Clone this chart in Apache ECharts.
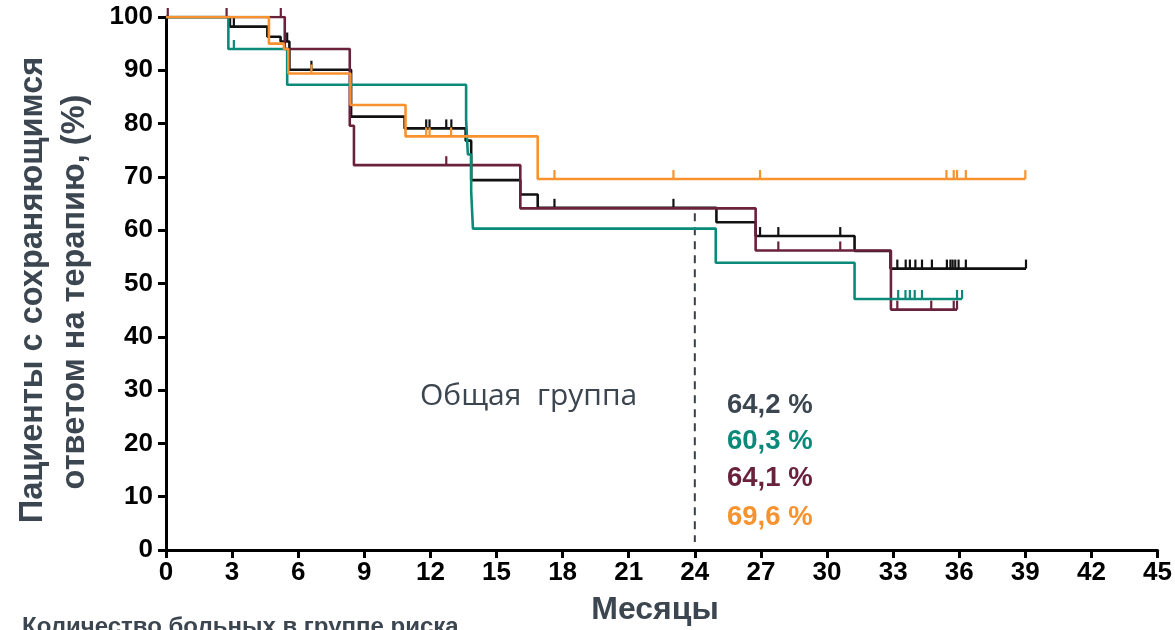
<!DOCTYPE html>
<html>
<head>
<meta charset="utf-8">
<script src="https://cdn.jsdelivr.net/npm/echarts@6/dist/echarts.min.js"></script>
<style>
  html, body { margin: 0; padding: 0; background: #ffffff; }
  #chart { width: 1175px; height: 630px; }
</style>
</head>
<body>
<div id="chart"></div>
<script>
// Kaplan–Meier curves: event times (months) and survival after each step (%)
const blackTimes  = [0, 2.9, 4.6, 5.2, 5.6, 8.4, 10.83, 13.6, 13.85, 16.08, 16.87, 24.98, 26.76, 31.25, 32.88, 39.03];
const blackValues = [100, 98.2, 96.3, 95.4, 90.1, 81.3, 79.1, 76.8, 69.4, 66.7, 64.2, 61.5, 58.9, 56.1, 52.8, 52.8];
const blackCensored = [3.08, 5.5, 6.6, 11.81, 11.96, 12.72, 12.95, 17.63, 23.03, 26.96, 27.79, 30.6,
  33.19, 33.57, 33.76, 34.01, 34.31, 34.76, 35.44, 35.6, 35.7, 35.82, 35.97, 36.3, 39.03];

const tealTimes  = [0, 2.83, 5.5, 13.62, 13.7, 13.85, 13.93, 24.95, 31.25, 36.13];
const tealValues = [100, 94.0, 87.3, 80.8, 74.2, 67.3, 60.3, 53.9, 47.1, 47.1];
const tealCensored = [3.08, 33.23, 33.56, 33.76, 33.98, 34.31, 35.9, 36.13];

const maroonTimes  = [0, 5.39, 8.34, 8.53, 16.08, 26.76, 32.9, 35.9];
const maroonValues = [100, 94.0, 79.6, 72.2, 64.1, 56.2, 45.1, 45.1];
const maroonCensored = [0.08, 2.75, 5.21, 12.72, 27.79, 30.6, 33.19, 34.73, 35.75, 35.9];

const orangeTimes  = [0, 4.67, 5.35, 5.55, 8.37, 10.87, 16.87, 39.0];
const orangeValues = [100, 95.0, 94.0, 89.4, 83.5, 77.6, 69.6, 69.6];
const orangeCensored = [6.6, 11.81, 11.96, 12.94, 17.63, 23.03, 26.96, 35.42, 35.75, 35.9, 36.3, 39.0];

// Landmark time and the rates read there
const landmarkMonth = 24;
const landmarkRates = [64.2, 60.3, 64.1, 69.6];

const colors = { black: '#111111', teal: '#0b8a7a', maroon: '#6a213c', orange: '#f7922f' };
const textGray = '#3c4650';
const narrowBold = "'Liberation Sans Narrow', 'Liberation Sans', Arial, sans-serif";

function stepValue(times, values, t) {
  let v = values[0];
  for (let i = 0; i < times.length; i++) { if (times[i] <= t) v = values[i]; }
  return v;
}

function curveSeries(name, times, values, color, z) {
  return {
    name: name, type: 'line', step: 'end', symbol: 'none', silent: true, z: z,
    lineStyle: { color: color, width: 2.6 },
    data: times.map((t, i) => [t, values[i]])
  };
}

function censorSeries(name, times, values, censored, color, z) {
  return {
    name: name, type: 'custom', silent: true, z: z,
    data: censored.map(t => [t, stepValue(times, values, t)]),
    renderItem: function (params, api) {
      const p = api.coord([api.value(0), api.value(1)]);
      return {
        type: 'line',
        shape: { x1: p[0], y1: p[1], x2: p[0], y2: p[1] - 9 },
        style: { stroke: color, lineWidth: 2.2 }
      };
    }
  };
}

const chart = echarts.init(document.getElementById('chart'), null, { renderer: 'canvas' });

const rateColors = [textGray, colors.teal, colors.maroon, colors.orange];
const rateY = [405, 441, 478, 517];

chart.setOption({
  animation: false,
  backgroundColor: '#ffffff',
  grid: { left: 166, right: 16, top: 17, bottom: 80 },
  xAxis: {
    type: 'value', min: 0, max: 45, interval: 3,
    axisLine: { show: true, lineStyle: { color: '#000', width: 3 } },
    axisTick: { show: true, length: 8, lineStyle: { color: '#000', width: 3 } },
    axisLabel: { color: '#000', fontSize: 26, fontWeight: 'bold', fontFamily: narrowBold, margin: 10 },
    splitLine: { show: false }
  },
  yAxis: {
    type: 'value', min: 0, max: 100, interval: 10,
    axisLine: { show: true, lineStyle: { color: '#000', width: 3 } },
    axisTick: { show: true, length: 8, lineStyle: { color: '#000', width: 3 } },
    axisLabel: { color: '#000', fontSize: 26, fontWeight: 'bold', fontFamily: narrowBold, margin: 13 },
    splitLine: { show: false }
  },
  series: [
    {
      name: 'landmark', type: 'line', symbol: 'none', silent: true, z: 1,
      lineStyle: { color: '#3a4048', width: 2, type: [8, 6] },
      data: [[landmarkMonth, 63.2], [landmarkMonth, 1.5]]
    },
    curveSeries('black', blackTimes, blackValues, colors.black, 2),
    censorSeries('black-censored', blackTimes, blackValues, blackCensored, colors.black, 2),
    curveSeries('maroon', maroonTimes, maroonValues, colors.maroon, 3),
    censorSeries('maroon-censored', maroonTimes, maroonValues, maroonCensored, colors.maroon, 3),
    curveSeries('teal', tealTimes, tealValues, colors.teal, 4),
    censorSeries('teal-censored', tealTimes, tealValues, tealCensored, colors.teal, 4),
    curveSeries('orange', orangeTimes, orangeValues, colors.orange, 5),
    censorSeries('orange-censored', orangeTimes, orangeValues, orangeCensored, colors.orange, 5)
  ],
  graphic: [
    {
      type: 'text', x: 33, y: 290, rotation: Math.PI / 2,
      style: { text: 'Пациенты с сохраняющимся', fill: textGray, font: 'bold 32.5px ' + narrowBold,
        textAlign: 'center', textVerticalAlign: 'middle' }
    },
    {
      type: 'text', x: 75, y: 292, rotation: Math.PI / 2,
      style: { text: 'ответом на терапию, (%)', fill: textGray, font: 'bold 32.5px ' + narrowBold,
        textAlign: 'center', textVerticalAlign: 'middle' }
    },
    {
      type: 'text', x: 655, y: 610,
      style: { text: 'Месяцы', fill: textGray, font: 'bold 32px ' + narrowBold,
        textAlign: 'center', textVerticalAlign: 'middle' }
    },
    {
      type: 'text', x: 22, y: 627,
      style: { text: 'Количество больных в группе риска', fill: textGray, font: 'bold 24px ' + narrowBold,
        textAlign: 'left', textVerticalAlign: 'middle' }
    },
    {
      type: 'text', x: 420, y: 396,
      style: { text: 'Общая  группа', fill: textGray, font: '30px "Open Sans", "Noto Sans", sans-serif',
        textAlign: 'left', textVerticalAlign: 'middle' }
    }
  ].concat(landmarkRates.map((r, i) => ({
    type: 'text', x: 727, y: rateY[i],
    style: { text: r.toFixed(1).replace('.', ',') + ' %', fill: rateColors[i],
      font: 'bold 27.5px ' + narrowBold, textAlign: 'left', textVerticalAlign: 'middle' }
  })))
});
</script>
</body>
</html>
